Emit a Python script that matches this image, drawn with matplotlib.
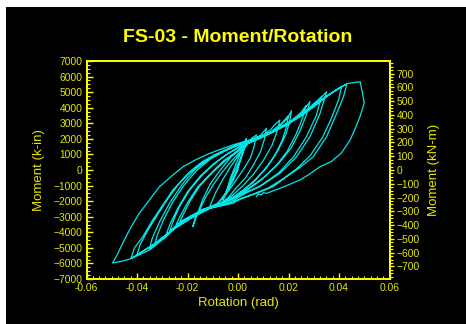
import numpy as np
import matplotlib
matplotlib.use('Agg')
import matplotlib.pyplot as plt
from matplotlib.patches import Rectangle
from matplotlib.ticker import MultipleLocator

plt.rcParams['font.family'] = ['Liberation Sans', 'DejaVu Sans']

# ====== Data: (rotation rad, moment k-in) per cycle ======
loop_a = [(0.0, 0), (-0.002, -600), (-0.004, -1100), (-0.003, -500), (-0.001, 300),
          (0.001, 1100), (0.002, 1600), (0.0025, 1850), (0.0015, 1000), (0.0, 100),
          (-0.002, -700)]
loop_b = [(-0.004, -1300), (-0.006, -1930), (-0.004, -1100), (-0.002, -300), (0.000, 400),
          (0.002, 1100), (0.003, 1700), (0.0033, 2035), (0.0025, 1400), (0.001, 600),
          (-0.001, -200), (-0.003, -900), (-0.005, -1500)]
loop_c = [(-0.008, -2150), (-0.0112, -2360), (-0.009, -1500), (-0.006, -600), (-0.003, 200),
          (0.000, 900), (0.003, 1500), (0.0055, 2050), (0.0073, 2250), (0.0065, 1600),
          (0.005, 800), (0.002, 0), (-0.001, -700), (-0.004, -1400), (-0.007, -2000)]
loop_d = [(-0.010, -2350), (-0.0152, -2570), (-0.013, -1800), (-0.010, -1000), (-0.007, -300),
          (-0.003, 500), (0.001, 1200), (0.004, 1700), (0.007, 2000), (0.009, 2250),
          (0.0113, 2680), (0.0105, 2000), (0.009, 1200), (0.006, 300), (0.003, -500),
          (-0.001, -1200), (-0.004, -1800)]
loop_e = [(-0.008, -2250), (-0.012, -2420), (-0.0165, -2800), (-0.0179, -3640), (-0.016, -2800),
          (-0.014, -1900), (-0.011, -900), (-0.007, 0), (-0.003, 800), (0.002, 1500),
          (0.006, 1950), (0.010, 2250), (0.013, 2600), (0.0145, 2900), (0.0166, 3210),
          (0.0155, 2500), (0.0135, 1600), (0.010, 600), (0.006, -300), (0.002, -1000),
          (-0.002, -1600)]
loop_f = [(-0.006, -2150), (-0.011, -2400), (-0.016, -2750), (-0.020, -3100), (-0.0245, -3500),
          (-0.023, -3000), (-0.020, -2100), (-0.016, -1100), (-0.011, -250), (-0.006, 550),
          (-0.001, 1150), (0.003, 1650), (0.007, 2000), (0.012, 2300), (0.016, 2750),
          (0.0195, 3300), (0.0212, 3810), (0.0205, 3150), (0.019, 2300), (0.016, 1300),
          (0.012, 300), (0.007, -600), (0.002, -1300), (-0.003, -1850)]
loop_f2 = [(-0.007, -2200), (-0.012, -2420), (-0.017, -2800), (-0.021, -3150), (-0.023, -3300),
           (-0.0215, -2800), (-0.019, -2000), (-0.015, -1000), (-0.010, -150), (-0.005, 600),
           (0.000, 1200), (0.004, 1700), (0.009, 2100), (0.013, 2450), (0.017, 2950),
           (0.020, 3500), (0.0192, 2800), (0.0175, 1900), (0.0145, 900), (0.0105, 0),
           (0.006, -800), (0.001, -1450), (-0.003, -1900)]
loop_g = [(-0.008, -2250), (-0.013, -2500), (-0.018, -2950), (-0.024, -3600), (-0.0285, -4170),
          (-0.027, -3500), (-0.024, -2500), (-0.020, -1400), (-0.015, -400), (-0.010, 350),
          (-0.005, 950), (0.001, 1550), (0.008, 2000), (0.014, 2450), (0.020, 2950),
          (0.025, 3600), (0.0285, 4390), (0.027, 3500), (0.0245, 2500), (0.021, 1400),
          (0.016, 400), (0.010, -500), (0.004, -1200), (-0.001, -1700)]
loop_g2 = [(-0.008, -2250), (-0.014, -2550), (-0.020, -3100), (-0.024, -3500), (-0.027, -3900),
           (-0.0255, -3200), (-0.023, -2300), (-0.019, -1250), (-0.014, -300), (-0.009, 450),
           (-0.004, 1050), (0.002, 1600), (0.009, 2050), (0.015, 2550), (0.021, 3150),
           (0.025, 3700), (0.027, 4150), (0.0255, 3300), (0.023, 2300), (0.0195, 1200),
           (0.015, 250), (0.0095, -600), (0.004, -1250), (-0.001, -1750)]
loop_h = [(-0.005, -2100), (-0.011, -2400), (-0.018, -3000), (-0.025, -3700), (-0.030, -4400),
          (-0.0351, -5100), (-0.034, -4400), (-0.031, -3300), (-0.027, -2100), (-0.022, -900),
          (-0.017, 50), (-0.011, 750), (-0.005, 1250), (0.000, 1600), (0.007, 2000),
          (0.014, 2500), (0.021, 3100), (0.027, 3800), (0.032, 4500), (0.0351, 5030),
          (0.0325, 3640), (0.0285, 2140), (0.0232, 850), (0.0166, -210), (0.0086, -1070),
          (0.002, -1500)]
loop_h2 = [(-0.005, -2100), (-0.012, -2450), (-0.019, -3100), (-0.025, -3750), (-0.030, -4350),
           (-0.033, -4800), (-0.032, -4200), (-0.0295, -3200), (-0.026, -2100), (-0.0215, -1000),
           (-0.0165, -50), (-0.011, 700), (-0.005, 1250), (0.001, 1650), (0.008, 2050),
           (0.015, 2600), (0.022, 3250), (0.028, 3950), (0.033, 4700), (0.031, 3500),
           (0.027, 2100), (0.022, 850), (0.016, -200), (0.009, -1000), (0.003, -1500)]
loop_i = [(-0.004, -2150), (-0.011, -2450), (-0.018, -3000), (-0.0245, -3640), (-0.0324, -4650),
          (-0.038, -5250), (-0.0424, -5680), (-0.041, -5000), (-0.0377, -4280), (-0.0338, -3210),
          (-0.030, -2300), (-0.0258, -1285), (-0.021, -450), (-0.0165, 210), (-0.012, 680),
          (-0.0073, 1070), (-0.0006, 1600), (0.006, 1950), (0.014, 2450), (0.0245, 3420),
          (0.030, 4100), (0.035, 4750), (0.040, 5250), (0.0431, 5520), (0.0418, 4710),
          (0.0391, 3640), (0.0351, 2140), (0.0298, 850), (0.024, 100), (0.0192, -430),
          (0.0139, -1070), (0.0073, -1500), (0.002, -1800)]
loop_i2 = [(-0.004, -2150), (-0.011, -2450), (-0.018, -3050), (-0.025, -3750), (-0.032, -4650),
           (-0.037, -5150), (-0.040, -5450), (-0.0388, -4800), (-0.0358, -3900), (-0.032, -2900),
           (-0.028, -1900), (-0.0235, -900), (-0.019, -100), (-0.014, 550), (-0.009, 1000),
           (-0.003, 1450), (0.004, 1850), (0.012, 2350), (0.020, 2950), (0.027, 3750),
           (0.033, 4500), (0.038, 5050), (0.041, 5350), (0.0398, 4500), (0.0372, 3400),
           (0.0335, 2100), (0.0285, 900), (0.023, 50), (0.018, -550), (0.012, -1150),
           (0.006, -1550), (0.001, -1850)]
loop_j = [(-0.002, -2140), (-0.0112, -2460), (-0.0179, -3000), (-0.0245, -3640), (-0.0285, -4300),
          (-0.0351, -5140), (-0.0424, -5700), (-0.0457, -5850), (-0.0497, -5970), (-0.0480, -5500),
          (-0.0457, -4710), (-0.0425, -3700), (-0.0391, -2780), (-0.0350, -1900), (-0.0311, -1070),
          (-0.0260, -350), (-0.0218, 210), (-0.0165, 680), (-0.0112, 1070), (-0.0060, 1380),
          (-0.0020, 1610), (0.0046, 1930), (0.0139, 2460), (0.0245, 3420), (0.030, 4050),
          (0.0351, 4710), (0.040, 5250), (0.0431, 5550), (0.0484, 5670), (0.0500, 4320),
          (0.0483, 3420), (0.0460, 2500), (0.0444, 1930), (0.0410, 1100), (0.0370, 550),
          (0.0325, 210), (0.0280, -300), (0.0245, -640), (0.0200, -950), (0.0166, -1175),
          (0.0113, -1500), (0.0100, -1450), (0.0093, -1600), (0.0080, -1550), (0.0073, -1715)]

loops = [loop_a, loop_b, loop_c, loop_d, loop_e, loop_f, loop_f2, loop_g, loop_g2,
         loop_h, loop_h2, loop_i, loop_i2, loop_j]
KIN_TO_KNM = 0.112985

path = np.array([p for lp in loops for p in lp])
rot, mom = path[:, 0], path[:, 1]

# ====== Figure ======
W, H = 466, 324
fig = plt.figure(figsize=(W/100, H/100), dpi=100, facecolor='white')
fig.patches.append(Rectangle((6/W, 0), 1, 1 - 7/H, transform=fig.transFigure,
                             facecolor='black', edgecolor='none', zorder=-1))

yel = '#ffff00'
tick_col = '#e6e600'
ax = fig.add_axes([86.5/W, 1 - 279/H, (389.5-86.5)/W, (279-61)/H])
ax.set_facecolor('black')
ax.plot(rot, mom, color='#00e6e6', linewidth=0.9)

ax.set_xlim(-0.06, 0.06)
ax.set_ylim(-7000, 7000)
ax.xaxis.set_major_locator(MultipleLocator(0.02))
ax.xaxis.set_minor_locator(MultipleLocator(0.0025))
ax.yaxis.set_major_locator(MultipleLocator(1000))
ax.yaxis.set_minor_locator(MultipleLocator(250))
ax.set_xticklabels([f'{v:.2f}' for v in ax.get_xticks()])
for s in ax.spines.values():
    s.set_color(yel); s.set_linewidth(1.3)
ax.tick_params(axis='both', which='major', direction='in', length=4, width=1,
               color=yel, labelcolor=tick_col, labelsize=7.4, pad=3)
ax.tick_params(axis='both', which='minor', direction='in', length=2, width=0.8, color=yel)
ax.tick_params(axis='y', right=False)
ax.set_xlabel('Rotation (rad)', color=tick_col, fontsize=9.5, labelpad=3)
ax.set_ylabel('Moment (k-in)', color=tick_col, fontsize=9.5, labelpad=6)

ax2 = ax.twinx()
ax2.set_ylim(-7000*KIN_TO_KNM, 7000*KIN_TO_KNM)
ax2.yaxis.set_major_locator(MultipleLocator(100))
ax2.yaxis.set_minor_locator(MultipleLocator(25))
ax2.set_yticks(np.arange(-700, 701, 100))
for s in ax2.spines.values():
    s.set_color(yel); s.set_linewidth(1.3)
ax2.tick_params(axis='y', which='major', direction='out', length=3, width=1,
                color=yel, labelcolor=tick_col, labelsize=7.4, pad=2)
ax2.tick_params(axis='y', which='minor', direction='out', length=2, width=0.8, color=yel)
ax2.set_ylabel('Moment (kN-m)', color=tick_col, fontsize=9.5, labelpad=6)

fig.text(238/W, 1 - 38/H, 'FS-03 - Moment/Rotation', color=yel, fontsize=14,
         fontweight='bold', ha='center', va='center')

plt.savefig('out.png', dpi=100, facecolor='white')
